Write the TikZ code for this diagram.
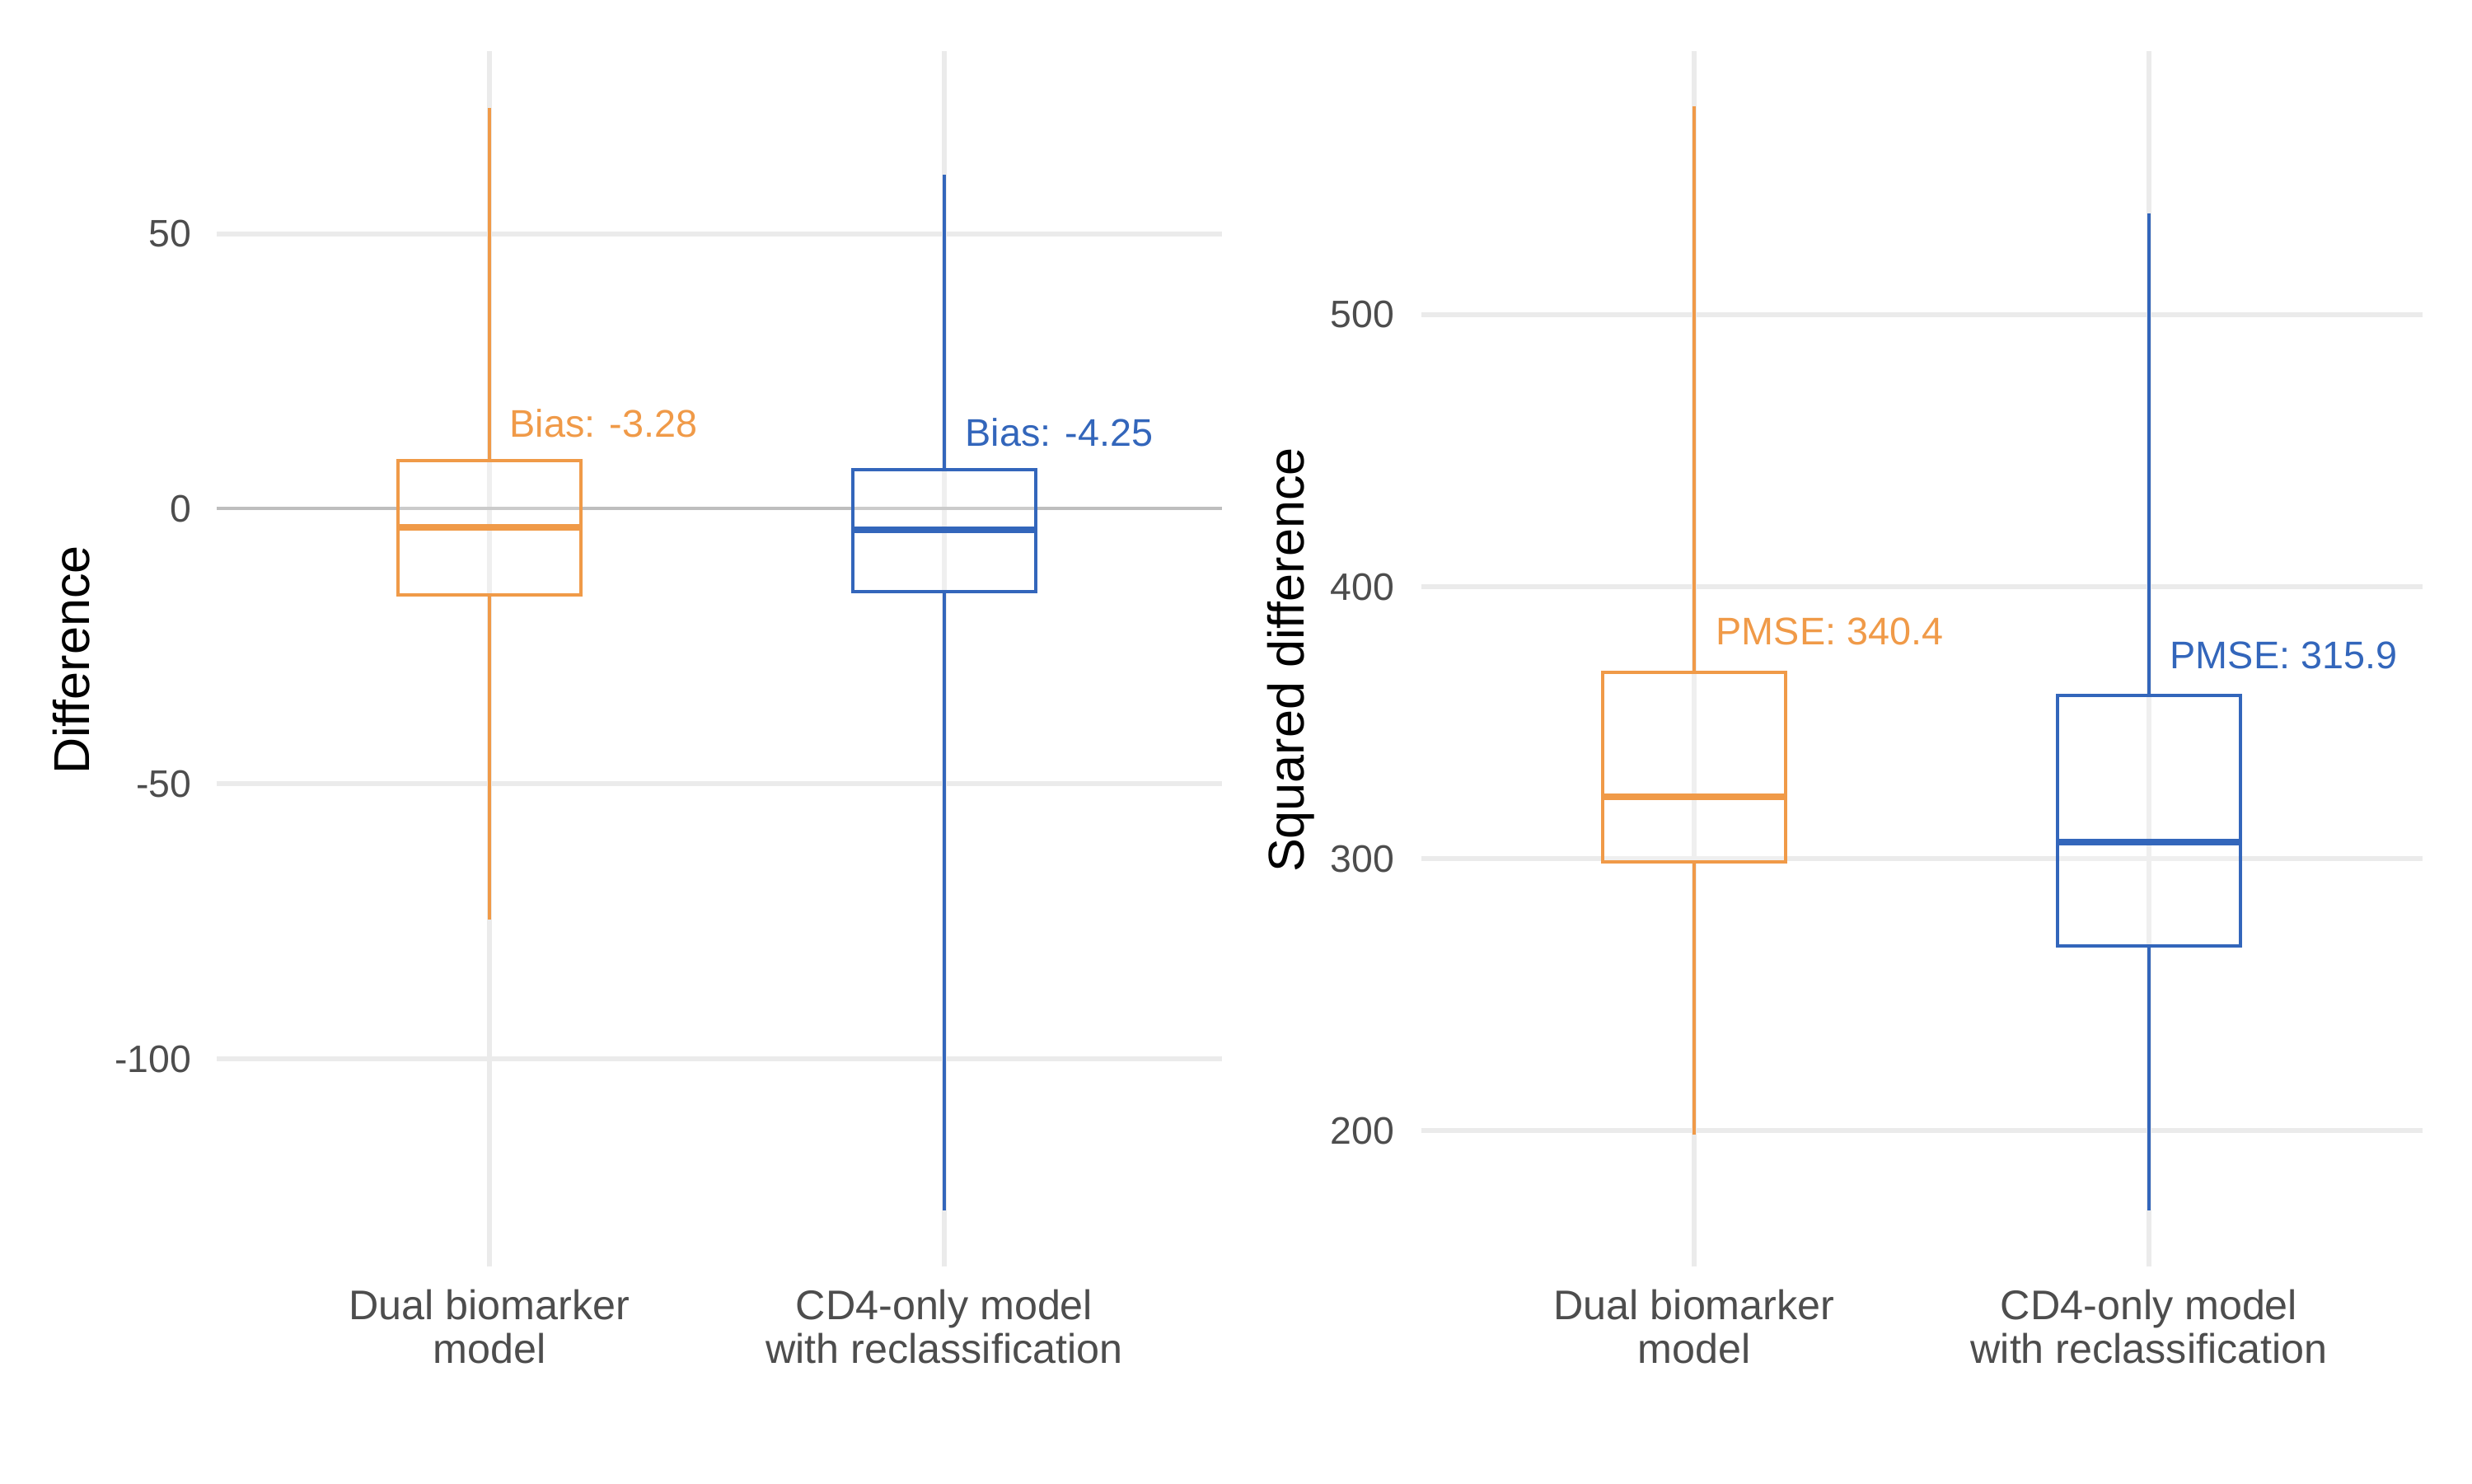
\documentclass[tikz,border=0pt]{standalone}
\usepackage{fontspec}
\setmainfont{Liberation Sans}
\usetikzlibrary{positioning}
\definecolor{dualorange}{HTML}{F09A48}
\definecolor{cdblue}{HTML}{3366BB}
\definecolor{gridgray}{HTML}{EBEBEB}
\definecolor{zerogray}{HTML}{BEBEBE}
\definecolor{ticktext}{HTML}{4D4D4D}

\begin{document}
\begin{tikzpicture}
            \tikzstyle{gridline}=[draw=gridgray, line width=1.6pt]
            \tikzstyle{zeroline}=[draw=zerogray, line width=1.3pt]
            \tikzstyle{whisker}=[line width=1pt]
            \tikzstyle{hinge}=[line width=1pt, fill=white, fill opacity=0.2]
            \tikzstyle{median}=[line width=2.2pt]
            \tikzstyle{ticklabel}=[anchor=base east, inner sep=0pt, text=ticktext, font=\fontsize{13.2}{15}\selectfont]
            \tikzstyle{catlabel}=[anchor=north, inner sep=0pt, align=center, text=ticktext, font=\fontsize{14.3}{15.1}\selectfont]
            \tikzstyle{axistitle}=[rotate=90, anchor=base, inner sep=0pt, font=\fontsize{17.4}{20}\selectfont]
            \tikzstyle{stat}=[anchor=base west, inner sep=0pt, font=\fontsize{13.3}{15}\selectfont]
            \fill[white] (0,0) rectangle (30,18);
            \useasboundingbox (0,0) rectangle (30,18);

            % left panel: difference
            \draw[gridline] (5.94,2.63) -- (5.94,17.38);
            \draw[gridline] (11.46,2.63) -- (11.46,17.38);
            \draw[gridline] (2.63,15.16) -- (14.83,15.16);
            \draw[gridline] (2.63,8.49) -- (14.83,8.49);
            \draw[gridline] (2.63,5.15) -- (14.83,5.15);
            \draw[zeroline] (2.63,11.83) -- (14.83,11.83);
            \node[ticklabel] (L50) at (2.33,15.00){50};
            \node[ticklabel] (L0) at (2.33,11.67){0};
            \node[ticklabel] (Lm50) at (2.33,8.33){-50};
            \node[ticklabel] (Lm100) at (2.33,4.99){-100};
            \node[axistitle] (LTitle) at (1.08,9.99){Difference};

            \draw[whisker, dualorange] (5.94,12.41) -- (5.94,16.69);
            \draw[whisker, dualorange] (5.94,10.78) -- (5.94,6.84);
            \draw[hinge, draw=dualorange] (4.83,10.78) rectangle (7.05,12.41);
            \draw[median, dualorange] (4.83,11.60) -- (7.05,11.60);
            \node[stat, text=dualorange] (DualBias) at (6.18,12.70){Bias: -3.28};

            \draw[whisker, cdblue] (11.46,12.30) -- (11.46,15.88);
            \draw[whisker, cdblue] (11.46,10.82) -- (11.46,3.31);
            \draw[hinge, draw=cdblue] (10.35,10.82) rectangle (12.57,12.30);
            \draw[median, cdblue] (10.35,11.57) -- (12.57,11.57);
            \node[stat, text=cdblue] (CDBias) at (11.71,12.59){Bias: -4.25};

            \node[catlabel] (LDual) at (5.94,2.36){Dual biomarker\\model};
            \node[catlabel] (LCD) at (11.46,2.36){CD4-only model\\with reclassification};

            % right panel: squared difference
            \draw[gridline] (20.56,2.63) -- (20.56,17.38);
            \draw[gridline] (26.08,2.63) -- (26.08,17.38);
            \draw[gridline] (17.25,14.18) -- (29.40,14.18);
            \draw[gridline] (17.25,10.88) -- (29.40,10.88);
            \draw[gridline] (17.25,7.58) -- (29.40,7.58);
            \draw[gridline] (17.25,4.28) -- (29.40,4.28);
            \node[ticklabel] (R500) at (16.93,14.02){500};
            \node[ticklabel] (R400) at (16.93,10.72){400};
            \node[ticklabel] (R300) at (16.93,7.42){300};
            \node[ticklabel] (R200) at (16.93,4.12){200};
            \node[axistitle] (RTitle) at (15.82,9.99){Squared difference};

            \draw[whisker, dualorange] (20.56,9.84) -- (20.56,16.71);
            \draw[whisker, dualorange] (20.56,7.54) -- (20.56,4.23);
            \draw[hinge, draw=dualorange] (19.45,7.54) rectangle (21.67,9.84);
            \draw[median, dualorange] (19.45,8.33) -- (21.67,8.33);
            \node[stat, text=dualorange] (DualPMSE) at (20.82,10.18){PMSE: 340.4};

            \draw[whisker, cdblue] (26.08,9.56) -- (26.08,15.41);
            \draw[whisker, cdblue] (26.08,6.52) -- (26.08,3.31);
            \draw[hinge, draw=cdblue] (24.97,6.52) rectangle (27.19,9.56);
            \draw[median, cdblue] (24.97,7.78) -- (27.19,7.78);
            \node[stat, text=cdblue] (CDPMSE) at (26.33,9.89){PMSE: 315.9};

            \node[catlabel] (RDual) at (20.56,2.36){Dual biomarker\\model};
            \node[catlabel] (RCD) at (26.08,2.36){CD4-only model\\with reclassification};

        \end{tikzpicture}
\end{document}
